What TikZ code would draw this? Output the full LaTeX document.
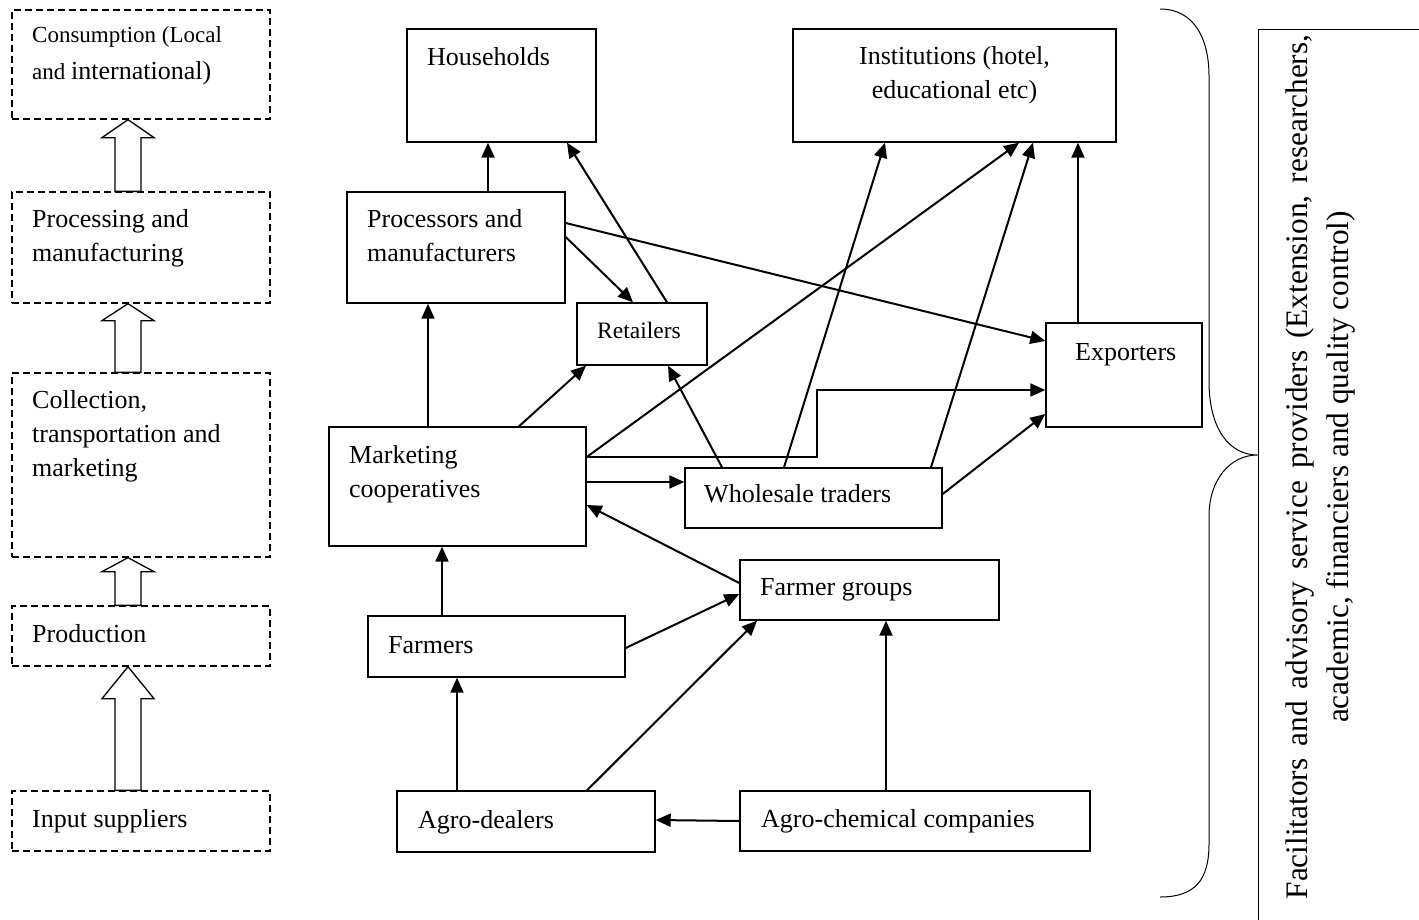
\documentclass[tikz,border=0pt]{standalone}
\usepackage{fontspec}
\setmainfont{Liberation Serif}
\usetikzlibrary{arrows.meta,calc}
\newcommand{\blockup}[3]{%
  \draw[hollow] (#2.south -| 128,0) -- ++(26,#3) -- ++(-13,0)
    -- (#1.north -| 141,0) -- (#1.north -| 115,0)
    -- ($(#2.south -| 102,0)+(13,#3)$) -- ++(-13,0) -- cycle;}

\begin{document}
\begin{tikzpicture}[
    x=1pt, y=-1pt,
    box/.style={draw, line width=1.4pt, inner sep=0pt},
    dbox/.style={box, line width=1.3pt, dash pattern=on 7pt off 4pt},
    lbl/.style={anchor=base west, inner sep=0pt, align=left,
                font={\fontsize{26}{34}\selectfont}},
    arr/.style={-{Triangle[length=15pt,width=13pt]}, line width=2pt},
    hollow/.style={draw, line width=1.3pt, fill=white},
    brace/.style={line width=1pt}
]
  \useasboundingbox (0,0) rectangle (1419,919);
  \clip (0,0) rectangle (1419,919);

  % stages on the left
  \node[dbox, minimum width=258pt, minimum height=109pt] (cons) at (141,64.5) {};
  \node[dbox, minimum width=258pt, minimum height=111pt] (procst) at (141,247.5) {};
  \node[dbox, minimum width=258pt, minimum height=184pt] (coll) at (141,465) {};
  \node[dbox, minimum width=258pt, minimum height=60pt] (prod) at (141,636) {};
  \node[dbox, minimum width=258pt, minimum height=60pt] (inp) at (141,821) {};

  % (base of a two-line label = its last line)
  \node[lbl, font={\fontsize{23}{37}\selectfont}] (cons-t) at (32,79)
    {Consumption (Local\\and {\fontsize{26}{34}\selectfont international)}};
  \node[lbl] (procst-t) at (32,261) {Processing and\\manufacturing};
  \node[lbl] (coll-t) at (32,476) {Collection,\\transportation and\\marketing};
  \node[lbl] (prod-t) at (32,642) {Production};
  \node[lbl] (inp-t) at (32,827) {Input suppliers};

  \blockup{procst}{cons}{18}
  \blockup{coll}{procst}{17}
  \blockup{prod}{coll}{14}
  \blockup{inp}{prod}{32}

  % actors
  \node[box, minimum width=189pt, minimum height=113pt] (hh) at (501.5,85.5) {};
  \node[box, minimum width=323pt, minimum height=113pt] (inst) at (954.5,85.5) {};
  \node[box, minimum width=218pt, minimum height=111pt] (proc) at (456,247.5) {};
  \node[box, minimum width=130pt, minimum height=62pt] (ret) at (642,334) {};
  \node[box, minimum width=156pt, minimum height=104pt] (exp) at (1124,375) {};
  \node[box, minimum width=257pt, minimum height=119pt] (mkt) at (457.5,486.5) {};
  \node[box, minimum width=257pt, minimum height=60pt] (whs) at (813.5,498) {};
  \node[box, minimum width=259pt, minimum height=60pt] (fg) at (869.5,590) {};
  \node[box, minimum width=257pt, minimum height=61pt] (frm) at (496.5,646.5) {};
  \node[box, minimum width=258pt, minimum height=61pt] (agd) at (526,821.5) {};
  \node[box, minimum width=350pt, minimum height=60pt] (agc) at (915,821) {};

  \node[lbl] (hh-t) at (427,65) {Households};
  \node[lbl, anchor=base, align=center] (inst-t) at (954.5,98)
    {Institutions (hotel,\\educational etc)};
  \node[lbl] (proc-t) at (367,261) {Processors and\\manufacturers};
  \node[lbl, font={\fontsize{23.5}{30}\selectfont}] (ret-t) at (597,338) {Retailers};
  \node[lbl] (exp-t) at (1075,360) {Exporters};
  \node[lbl] (mkt-t) at (349,497) {Marketing\\cooperatives};
  \node[lbl] (whs-t) at (704,502) {Wholesale traders};
  \node[lbl] (fg-t) at (760,595) {Farmer groups};
  \node[lbl] (frm-t) at (388,653) {Farmers};
  \node[lbl] (agd-t) at (418,828) {Agro-dealers};
  \node[lbl] (agc-t) at (761,827) {Agro-chemical companies};

  % flows
  \draw[arr] (proc.north -| 488,0) -- (hh.south -| 488,0);
  \draw[arr] (ret.north -| 667,0) -- (hh.south -| 567,0);
  \draw[arr] (proc.east |- 0,237) -- (ret.north -| 633,0);
  \draw[arr] (proc.east |- 0,223) -- (exp.west |- 0,341);
  \draw[arr] (mkt.north -| 428,0) -- (proc.south -| 428,0);
  \draw[arr] (mkt.north -| 519,0) -- (ret.south -| 586,0);
  \draw[arr] (whs.north -| 722,0) -- (ret.south -| 668,0);
  \draw[arr] (mkt.east |- 0,457) -- (inst.south -| 1019,0);
  \draw[arr] (mkt.east |- 0,457) -| (817,390) -- (exp.west |- 0,390);
  \draw[arr] (mkt.east |- 0,482) -- (whs.west |- 0,482);
  \draw[arr] (whs.north -| 784,0) -- (inst.south -| 885,0);
  \draw[arr] (whs.north -| 931,0) -- (inst.south -| 1033,0);
  \draw[arr] (exp.north -| 1078,0) -- (inst.south -| 1078,0);
  \draw[arr] (whs.east |- 0,494) -- (exp.west |- 0,414);
  \draw[arr] (fg.west |- 0,583) -- (mkt.east |- 0,505);
  \draw[arr] (frm.north -| 442,0) -- (mkt.south -| 442,0);
  \draw[arr] (frm.east |- 0,648) -- (fg.west |- 0,594);
  \draw[arr] (agd.north -| 457,0) -- (frm.south -| 457,0);
  \draw[arr] (agd.north -| 587,0) -- (fg.south -| 757,0);
  \draw[arr] (agc.north -| 886,0) -- (fg.south -| 886,0);
  \draw[arr] (agc.west |- 0,821) -- (agd.east |- 0,820);

  % service providers
  \node[box, line width=1pt, minimum width=182pt, minimum height=911pt] (facbox)
    at (1349,484.5) {};
  \node[rotate=90, align=center, inner sep=0pt,
        font={\fontsize{31.3}{41}\selectfont}] (fac) at (1321,467)
    {{\spaceskip=12pt Facilitators and advisory service providers (Extension,\ researchers,}\\
     academic,\ financiers and quality control)};
  \draw[brace] (1160,9) .. controls (1195,9) and (1209,40) .. (1209,76)
    -- (1209,381) .. controls (1209,430) and (1230,455) .. (facbox.west |- 0,455)
    .. controls (1230,455) and (1209,480) .. (1209,516)
    -- (1209,844) .. controls (1209,880) and (1195,897) .. (1160,897);
\end{tikzpicture}
\end{document}
